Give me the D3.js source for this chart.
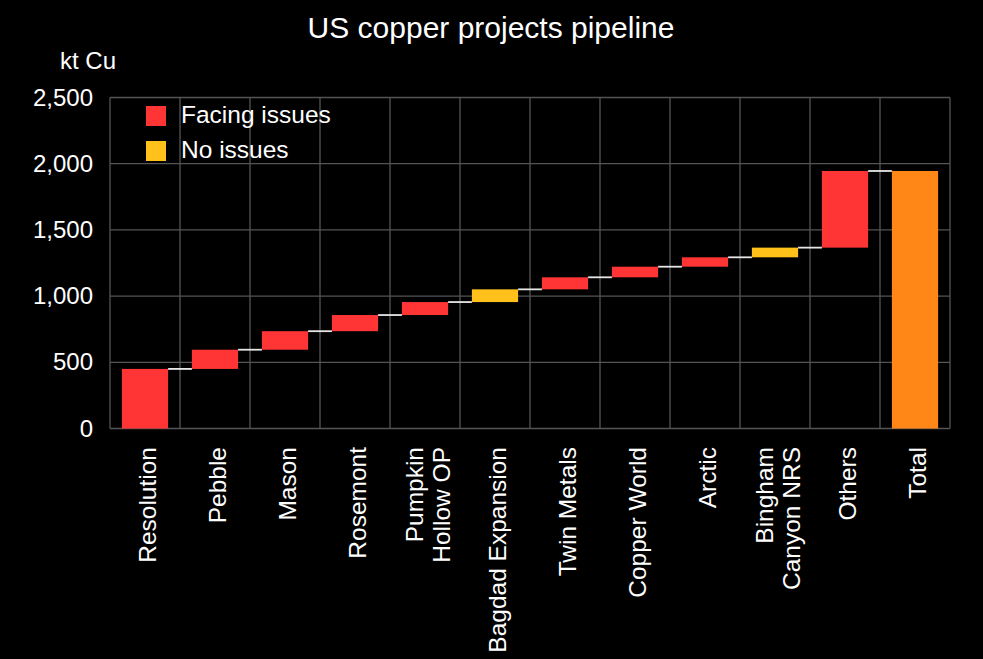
<!DOCTYPE html>
<html><head><meta charset="utf-8">
<script src="https://cdn.jsdelivr.net/npm/d3@7"></script>
<style>
html,body{margin:0;padding:0;background:#000;}
svg{display:block;font-family:"Liberation Sans",Arial,sans-serif;}
</style></head>
<body><svg id="chart" width="983" height="659"></svg>
<script>
const categories = ["Resolution","Pebble","Mason","Rosemont","Pumpkin\nHollow OP","Bagdad Expansion","Twin Metals","Copper World","Arctic","Bingham\nCanyon NRS","Others","Total"];
const values = [450,145,140,122,98,96,91,80,71,73,579,1945];
const status = ["Facing issues","Facing issues","Facing issues","Facing issues","Facing issues","No issues","Facing issues","Facing issues","Facing issues","No issues","Facing issues","Total"];
const yTicks = [0,500,1000,1500,2000,2500];
const legendItems = ["Facing issues","No issues"];
const colors = {"Facing issues":"#FF3535","No issues":"#FFC11A","Total":"#FF8718"};

const svg = d3.select("#chart");
const m = {left:110, right:950, top:97.5, bottom:428.5};
const x = d3.scaleBand().domain(categories).range([m.left,m.right]).paddingInner(0.34).paddingOuter(0.17);
const xGrid = d3.scaleBand().domain(categories).range([m.left,m.right]);
const y = d3.scaleLinear().domain([0,2500]).range([m.bottom,m.top]);

let cum = 0;
const data = categories.map((c,i)=>{
  let base, top;
  if (status[i]==="Total"){ base=0; top=values[i]; }
  else { base=cum; top=cum+values[i]; cum=top; }
  return {c, base, top, s:status[i]};
});

svg.append("text").attr("x",491).attr("y",38).attr("text-anchor","middle")
  .attr("fill","#fff").attr("font-size",30).text("US copper projects pipeline");
svg.append("text").attr("x",60).attr("y",69).attr("fill","#fff").attr("font-size",24).text("kt Cu");

const grid = svg.append("g").attr("stroke","#555").attr("stroke-width",1.3);
yTicks.forEach(t=>{
  grid.append("line").attr("x1",m.left).attr("x2",m.right).attr("y1",y(t)).attr("y2",y(t));
});
categories.forEach(c=>{
  grid.append("line").attr("x1",xGrid(c)).attr("x2",xGrid(c)).attr("y1",m.top).attr("y2",m.bottom);
});
grid.append("line").attr("x1",m.right).attr("x2",m.right).attr("y1",m.top).attr("y2",m.bottom);

const yAxis = d3.axisLeft(y).tickValues(yTicks).tickFormat(d3.format(",")).tickSize(0).tickPadding(17);
const ya = svg.append("g").attr("transform",`translate(${m.left},0)`).call(yAxis);
ya.select(".domain").remove();
ya.selectAll("text").attr("fill","#fff").attr("font-size",24).attr("font-family","Liberation Sans, Arial, sans-serif");

svg.append("g").selectAll("rect").data(data).join("rect")
  .attr("x",d=>x(d.c)).attr("width",x.bandwidth())
  .attr("y",d=>y(d.top)).attr("height",d=>y(d.base)-y(d.top))
  .attr("fill",d=>colors[d.s]);

svg.append("g").selectAll("line").data(data.slice(0,-1)).join("line")
  .attr("x1",d=>x(d.c)+x.bandwidth()).attr("x2",(d,i)=>x(data[i+1].c))
  .attr("y1",d=>y(d.top)).attr("y2",d=>y(d.top))
  .attr("stroke","#e6e6e6").attr("stroke-width",1.8);

const xl = svg.append("g");
categories.forEach(c=>{
  const lines = c.split("\n");
  const cx = xGrid(c)+xGrid.bandwidth()/2;
  const lh = 27;
  lines.forEach((ln,j)=>{
    const off = (j-(lines.length-1)/2)*lh;
    xl.append("text")
      .attr("transform",`translate(${cx+off+11},447) rotate(-90)`)
      .attr("text-anchor","end").attr("fill","#fff").attr("font-size",24.5).text(ln);
  });
});

const lg = svg.append("g");
legendItems.forEach((l,i)=>{
  lg.append("rect").attr("x",146).attr("y",106+i*35).attr("width",20).attr("height",20).attr("fill",colors[l]);
  lg.append("text").attr("x",181).attr("y",123+i*35).attr("fill","#fff").attr("font-size",24.5).text(l);
});
</script></body></html>
